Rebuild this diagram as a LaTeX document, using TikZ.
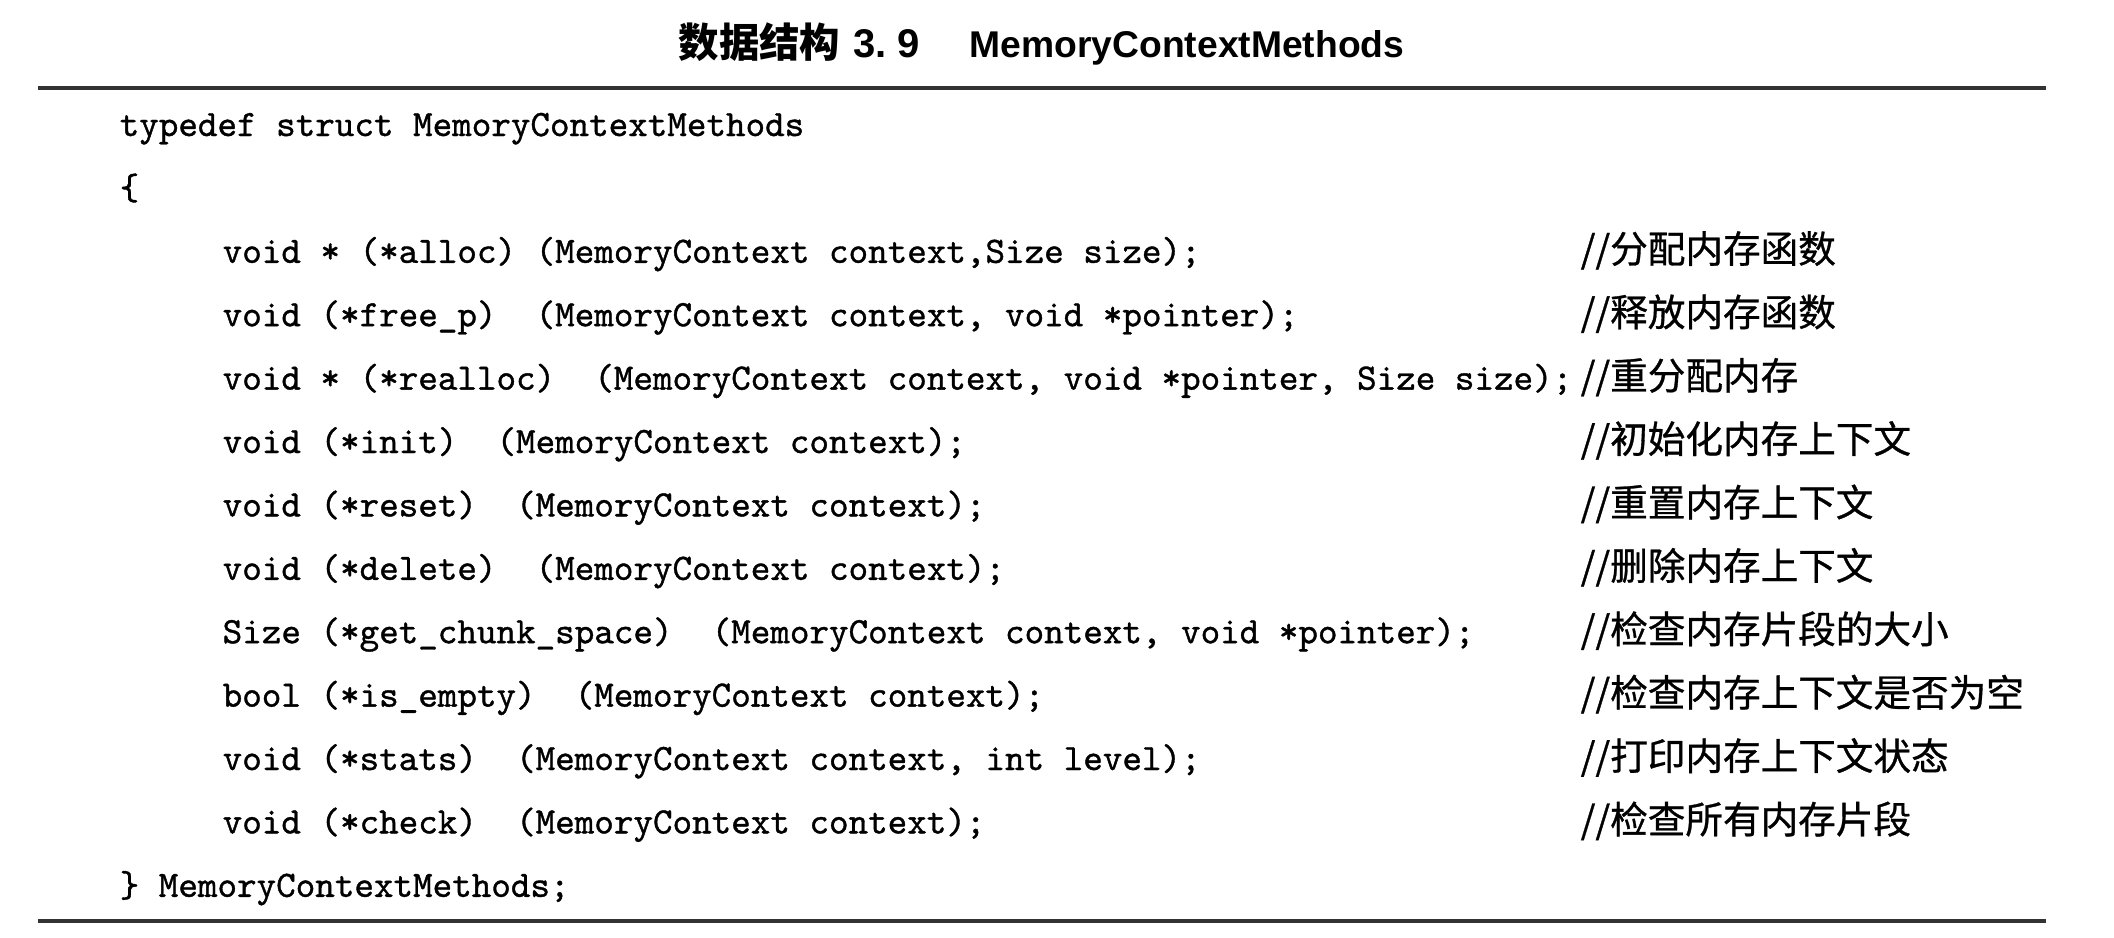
\documentclass[tikz,border=0pt]{standalone}
\usepackage{fontspec}
\setmainfont{Liberation Sans}
\newfontfamily\cjk{Noto Sans CJK SC}
\newfontfamily\cjknote{Noto Sans CJK SC}[FakeBold=0.8]
\newfontfamily\codefont{Latin Modern Mono}[FakeBold=1]

\begin{document}
\begin{tikzpicture}[x=1cm,y=1cm,
        code/.style={anchor=base west,inner sep=0pt,font=\codefont\fontsize{10.6}{12}\selectfont},
        note/.style={anchor=base west,inner sep=0pt,font=\cjknote\fontsize{10.7}{12}\selectfont},
        head/.style={anchor=base west,inner sep=0pt,font=\bfseries\fontsize{10.6}{12}\selectfont},
        rule/.style={line width=1.2pt,black!80}]
                \useasboundingbox (0,0) rectangle (21.14,-9.37);

                \node[head] (titlenum) at (6.78,-0.57) {{\cjk\bfseries\fontsize{11.5}{12}\selectfont 数据结构}\hspace{0.13cm}{\fontsize{11.4}{12}\selectfont 3.\ 9}};
                \node[head] (titlename) at (9.69,-0.57) {MemoryContextMethods};

                \draw[rule] (0.38,-0.88) -- (20.46,-0.88);
                \draw[rule] (0.38,-9.21) -- (20.46,-9.21);

                \node[code] (open) at (1.19,-1.36) {typedef struct MemoryContextMethods};
                \node[code] (brace) at (1.19,-1.994) {\{};

                \node[code] (alloc) at (2.22,-2.628) {void * (*alloc) (MemoryContext context,Size size);};
                \node[code] (free) at (2.22,-3.262) {void (*free\_p)\ \ (MemoryContext context, void *pointer);};
                \node[code] (realloc) at (2.22,-3.896) {void * (*realloc)\ \ (MemoryContext context, void *pointer, Size size);};
                \node[code] (init) at (2.22,-4.53) {void (*init)\ \ (MemoryContext context);};
                \node[code] (reset) at (2.22,-5.164) {void (*reset)\ \ (MemoryContext context);};
                \node[code] (delete) at (2.22,-5.798) {void (*delete)\ \ (MemoryContext context);};
                \node[code] (chunk) at (2.22,-6.432) {Size (*get\_chunk\_space)\ \ (MemoryContext context, void *pointer);};
                \node[code] (empty) at (2.22,-7.066) {bool (*is\_empty)\ \ (MemoryContext context);};
                \node[code] (stats) at (2.22,-7.70) {void (*stats)\ \ (MemoryContext context, int level);};
                \node[code] (check) at (2.22,-8.334) {void (*check)\ \ (MemoryContext context);};

                \node[code] (close) at (1.19,-8.968) {\} MemoryContextMethods;};

                \node[note] (allocnote) at (15.80,-2.628) {//分配内存函数};
                \node[note] (freenote) at (15.80,-3.262) {//释放内存函数};
                \node[note] (reallocnote) at (15.80,-3.896) {//重分配内存};
                \node[note] (initnote) at (15.80,-4.53) {//初始化内存上下文};
                \node[note] (resetnote) at (15.80,-5.164) {//重置内存上下文};
                \node[note] (deletenote) at (15.80,-5.798) {//删除内存上下文};
                \node[note] (chunknote) at (15.80,-6.432) {//检查内存片段的大小};
                \node[note] (emptynote) at (15.80,-7.066) {//检查内存上下文是否为空};
                \node[note] (statsnote) at (15.80,-7.70) {//打印内存上下文状态};
                \node[note] (checknote) at (15.80,-8.334) {//检查所有内存片段};
\end{tikzpicture}
\end{document}
